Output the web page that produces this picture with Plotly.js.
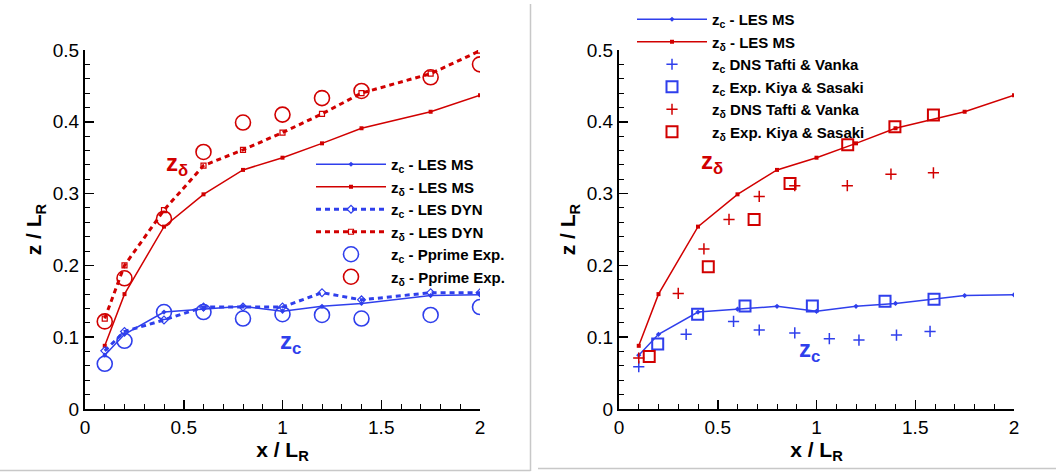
<!DOCTYPE html>
<html>
<head>
<meta charset="utf-8">
<script src="https://cdn.plot.ly/plotly-3.0.1.min.js"></script>
<style>html,body{margin:0;padding:0;background:#fff;}#chart{width:1056px;height:472px;}</style>
</head>
<body>
<div id="chart"></div>
<script>
// ---- data (x / L_R, z / L_R) ----
const xLES = [0.1, 0.2, 0.4, 0.6, 0.8, 1.0, 1.2, 1.4, 1.75, 2.0];
const lesMsZc  = [0.075, 0.104, 0.135, 0.139, 0.143, 0.136, 0.143, 0.147, 0.158, 0.159];
const lesMsZd  = [0.088, 0.160, 0.254, 0.299, 0.333, 0.350, 0.370, 0.391, 0.414, 0.437];
const lesDynZc = [0.081, 0.108, 0.124, 0.142, 0.142, 0.142, 0.162, 0.152, 0.162, 0.162];
const lesDynZd = [0.126, 0.200, 0.277, 0.339, 0.361, 0.385, 0.411, 0.440, 0.467, 0.499];
const xPprime = [0.1, 0.2, 0.4, 0.6, 0.8, 1.0, 1.2, 1.4, 1.75, 2.0];
const pprimeZc = [0.063, 0.095, 0.135, 0.135, 0.126, 0.132, 0.131, 0.126, 0.131, 0.142];
const pprimeZd = [0.122, 0.182, 0.265, 0.358, 0.399, 0.410, 0.433, 0.443, 0.462, 0.480];

const xDnsZc = [0.10, 0.34, 0.58, 0.71, 0.89, 1.065, 1.215, 1.405, 1.575];
const dnsZc  = [0.059, 0.104, 0.122, 0.110, 0.106, 0.098, 0.096, 0.103, 0.108];
const xDnsZd = [0.10, 0.30, 0.43, 0.557, 0.71, 0.89, 1.156, 1.377, 1.592];
const dnsZd  = [0.071, 0.161, 0.223, 0.264, 0.296, 0.311, 0.311, 0.327, 0.329];
const xKiyaZc = [0.196, 0.398, 0.638, 0.979, 1.347, 1.595];
const kiyaZc  = [0.0905, 0.132, 0.1435, 0.1435, 0.150, 0.153];
const xKiyaZd = [0.153, 0.452, 0.684, 0.866, 1.158, 1.397, 1.592];
const kiyaZd  = [0.073, 0.198, 0.264, 0.314, 0.368, 0.393, 0.4095];

const xTicks = [0, 0.5, 1, 1.5, 2];
const xTickText = ['0', '0.5', '1', '1.5', '2'];
const yTicks = [0, 0.1, 0.2, 0.3, 0.4, 0.5];
const yTickText = ['0', '0.1', '0.2', '0.3', '0.4', '0.5'];

// ---- style ----
const BLUE = '#2f3fec';
const RED = '#d10000';
const FONT = 'Liberation Sans, Arial, Helvetica, sans-serif';
const W = 1056, H = 472;
const LFS = 15;

const traces = [
  // left panel
  {x: xLES, y: lesMsZc, xaxis: 'x', yaxis: 'y', mode: 'lines+markers', name: '<b>z<sub>c</sub> - LES MS</b>',
   line: {color: BLUE, width: 1.5}, marker: {symbol: 'diamond', size: 4, color: BLUE}, legend: 'legend'},
  {x: xLES, y: lesMsZd, xaxis: 'x', yaxis: 'y', mode: 'lines+markers', name: '<b>z<sub>δ</sub> - LES MS</b>',
   line: {color: RED, width: 1.5}, marker: {symbol: 'square', size: 4, color: RED}, legend: 'legend'},
  {x: xLES, y: lesDynZc, xaxis: 'x', yaxis: 'y', mode: 'lines+markers', name: '<b>z<sub>c</sub> - LES DYN</b>',
   line: {color: BLUE, width: 3, dash: '5px,4px'}, marker: {symbol: 'diamond-open', size: 6, color: BLUE, line: {width: 1.2}}, legend: 'legend'},
  {x: xLES, y: lesDynZd, xaxis: 'x', yaxis: 'y', mode: 'lines+markers', name: '<b>z<sub>δ</sub> - LES DYN</b>',
   line: {color: RED, width: 3, dash: '5px,4px'}, marker: {symbol: 'square-open', size: 5, color: RED, line: {width: 1.2}}, legend: 'legend'},
  {x: xPprime, y: pprimeZc, xaxis: 'x', yaxis: 'y', mode: 'markers', name: '<b>z<sub>c</sub> - Pprime Exp.</b>',
   marker: {symbol: 'circle-open', size: 15, color: BLUE, line: {width: 1.6}}, legend: 'legend'},
  {x: xPprime, y: pprimeZd, xaxis: 'x', yaxis: 'y', mode: 'markers', name: '<b>z<sub>δ</sub> - Pprime Exp.</b>',
   marker: {symbol: 'circle-open', size: 15, color: RED, line: {width: 1.6}}, legend: 'legend'},
  // right panel
  {x: xLES, y: lesMsZc, xaxis: 'x2', yaxis: 'y2', mode: 'lines+markers', name: '<b>z<sub>c</sub> - LES MS</b>',
   line: {color: BLUE, width: 1.5}, marker: {symbol: 'diamond', size: 4, color: BLUE}, legend: 'legend2'},
  {x: xLES, y: lesMsZd, xaxis: 'x2', yaxis: 'y2', mode: 'lines+markers', name: '<b>z<sub>δ</sub> - LES MS</b>',
   line: {color: RED, width: 1.5}, marker: {symbol: 'square', size: 4, color: RED}, legend: 'legend2'},
  {x: xDnsZc, y: dnsZc, xaxis: 'x2', yaxis: 'y2', mode: 'markers', name: '<b>z<sub>c</sub> DNS Tafti &amp; Vanka</b>',
   marker: {symbol: 'cross-thin', size: 8, color: BLUE, line: {width: 1.5, color: BLUE}}, legend: 'legend2'},
  {x: xKiyaZc, y: kiyaZc, xaxis: 'x2', yaxis: 'y2', mode: 'markers', name: '<b>z<sub>c</sub> Exp. Kiya &amp; Sasaki</b>',
   marker: {symbol: 'square-open', size: 11, color: BLUE, line: {width: 2}}, legend: 'legend2'},
  {x: xDnsZd, y: dnsZd, xaxis: 'x2', yaxis: 'y2', mode: 'markers', name: '<b>z<sub>δ</sub> DNS Tafti &amp; Vanka</b>',
   marker: {symbol: 'cross-thin', size: 8, color: RED, line: {width: 1.5, color: RED}}, legend: 'legend2'},
  {x: xKiyaZd, y: kiyaZd, xaxis: 'x2', yaxis: 'y2', mode: 'markers', name: '<b>z<sub>δ</sub> Exp. Kiya &amp; Sasaki</b>',
   marker: {symbol: 'square-open', size: 11, color: RED, line: {width: 2}}, legend: 'legend2'}
];

function xAxis(l, r) {
  return {
    domain: [l / W, r / W], range: [0, 2], showgrid: false, zeroline: false,
    showline: true, linecolor: '#000', linewidth: 2, mirror: false,
    ticks: 'inside', ticklen: 9, tickwidth: 1.5, tickcolor: '#000',
    tickvals: xTicks, ticktext: xTickText,
    tickfont: {family: FONT, size: 19, color: '#000'},
    minor: {ticks: 'inside', dtick: 0.1, ticklen: 5, tickwidth: 1, tickcolor: '#000', showgrid: false},
    title: {text: '<b>x / L<sub>R</sub></b>', font: {family: FONT, size: 21, color: '#000'}, standoff: 5},
    fixedrange: true
  };
}
function yAxis(anchor) {
  return {
    domain: [(H - 409) / H, (H - 50) / H], range: [0, 0.5], anchor: anchor, showgrid: false, zeroline: false,
    showline: true, linecolor: '#000', linewidth: 2, mirror: false,
    ticks: 'inside', ticklen: 9, tickwidth: 1.5, tickcolor: '#000',
    tickvals: yTicks, ticktext: yTickText,
    tickfont: {family: FONT, size: 19, color: '#000'},
    minor: {ticks: 'inside', dtick: 0.02, ticklen: 5, tickwidth: 1, tickcolor: '#000', showgrid: false},
    title: {text: '<b>z / L<sub>R</sub></b>', font: {family: FONT, size: 21, color: '#000'}, standoff: 5},
    fixedrange: true
  };
}

const layout = {
  width: W, height: H,
  margin: {l: 0, r: 0, t: 0, b: 0},
  paper_bgcolor: '#fff', plot_bgcolor: 'rgba(0,0,0,0)',
  font: {family: FONT, size: LFS, color: '#000'},
  xaxis: Object.assign(xAxis(85, 480), {anchor: 'y'}),
  yaxis: yAxis('x'),
  xaxis2: Object.assign(xAxis(619, 1014), {anchor: 'y2'}),
  yaxis2: yAxis('x2'),
  showlegend: true,
  legend: {x: 311 / W, y: 1 - 148 / H, xanchor: 'left', yanchor: 'top', bgcolor: 'rgba(0,0,0,0)',
           font: {family: FONT, size: LFS, color: '#000'}, itemwidth: 70, tracegroupgap: 0},
  legend2: {x: 632 / W, y: 1 - 3 / H, xanchor: 'left', yanchor: 'top', bgcolor: 'rgba(0,0,0,0)',
            font: {family: FONT, size: LFS, color: '#000'}, itemwidth: 70, tracegroupgap: 0},
  annotations: [
    {xref: 'x', yref: 'y', x: 0.466, y: 0.34, text: '<b>z<sub>δ</sub></b>', showarrow: false, font: {family: FONT, size: 24, color: RED}},
    {xref: 'x', yref: 'y', x: 1.04, y: 0.093, text: '<b>z<sub>c</sub></b>', showarrow: false, font: {family: FONT, size: 24, color: BLUE}},
    {xref: 'x2', yref: 'y2', x: 0.471, y: 0.344, text: '<b>z<sub>δ</sub></b>', showarrow: false, font: {family: FONT, size: 24, color: RED}},
    {xref: 'x2', yref: 'y2', x: 0.967, y: 0.082, text: '<b>z<sub>c</sub></b>', showarrow: false, font: {family: FONT, size: 24, color: BLUE}}
  ],
  shapes: [
    {type: 'line', xref: 'paper', yref: 'paper', x0: 530.5 / W, x1: 530.5 / W, y0: 1 - 4 / H, y1: 1 - 471 / H, line: {color: '#c8c8c8', width: 1.5}},
    {type: 'line', xref: 'paper', yref: 'paper', x0: 0, x1: 530.5 / W, y0: 1 - 470.5 / H, y1: 1 - 470.5 / H, line: {color: '#c8c8c8', width: 1.5}},
    {type: 'line', xref: 'paper', yref: 'paper', x0: 538 / W, x1: 1, y0: 1 - 468.5 / H, y1: 1 - 468.5 / H, line: {color: '#c8c8c8', width: 1.5}}
  ]
};

Plotly.newPlot('chart', traces, layout, {displayModeBar: false, staticPlot: true});
</script>
</body>
</html>
